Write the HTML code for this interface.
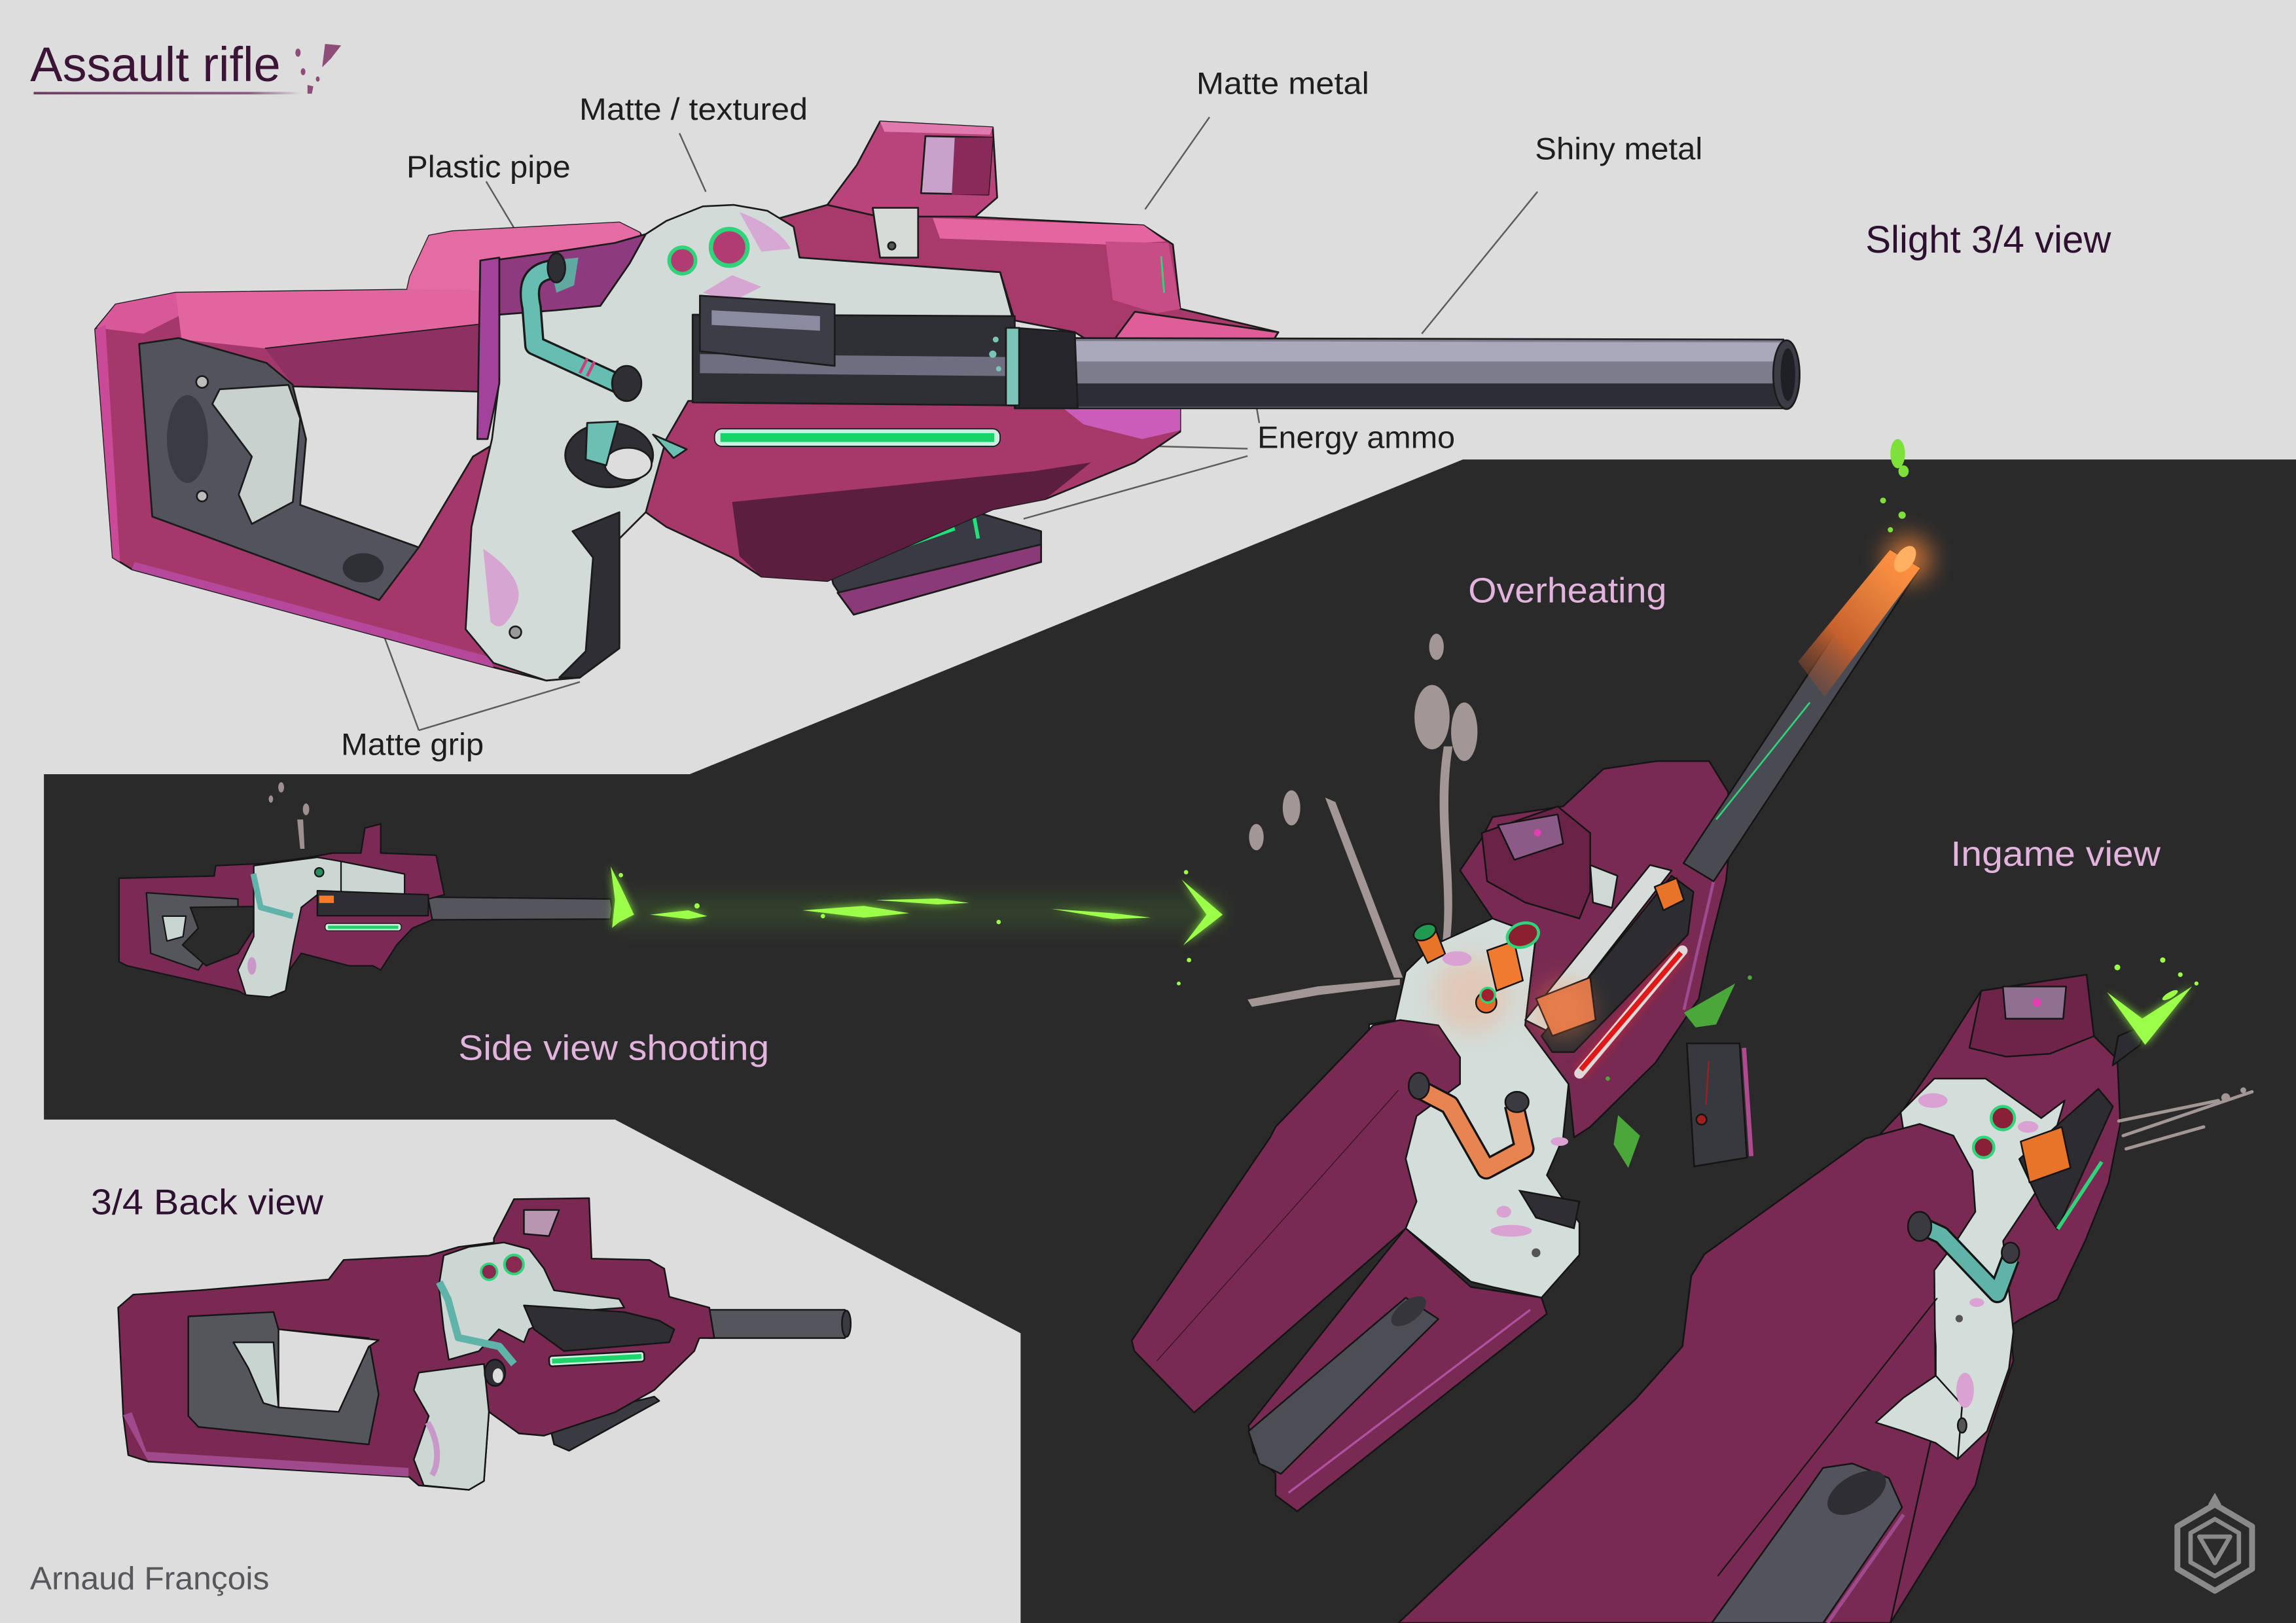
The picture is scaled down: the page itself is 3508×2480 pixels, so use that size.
<!DOCTYPE html>
<html><head><meta charset="utf-8">
<style>
html,body{margin:0;padding:0;background:#dddddd;overflow:hidden}
svg{display:block}
</style></head><body>
<svg xmlns="http://www.w3.org/2000/svg" width="3508" height="2480" viewBox="0 0 1568 1109" preserveAspectRatio="none" font-family="'Liberation Sans', Arial, sans-serif">
<defs>
 <filter id="b3" x="-100%" y="-100%" width="300%" height="300%"><feGaussianBlur stdDeviation="3"/></filter>
 <filter id="b8" x="-100%" y="-100%" width="300%" height="300%"><feGaussianBlur stdDeviation="8"/></filter>
 <linearGradient id="ul" x1="0" x2="1" y1="0" y2="0"><stop offset="0" stop-color="#6e3a63"/><stop offset="0.8" stop-color="#8a5a80"/><stop offset="1" stop-color="#8a5a80" stop-opacity="0"/></linearGradient>
 <linearGradient id="hot" x1="1225" y1="470" x2="1305" y2="380" gradientUnits="userSpaceOnUse"><stop offset="0" stop-color="#8a4a32" stop-opacity="0.2"/><stop offset="0.4" stop-color="#c8622e"/><stop offset="1" stop-color="#ff9a48"/></linearGradient>
</defs>

<rect width="1568" height="1109" fill="#dddddd"/>
<polygon points="999,314 1568,314 1568,1109 697,1109 697,911 420,765 30,765 30,529 471,529" fill="#2a2a2a"/>

<!-- ===== Title ===== -->
<text x="20.6" y="55.4" font-size="33" fill="#3a1535" textLength="171" lengthAdjust="spacingAndGlyphs">Assault rifle</text>
<rect x="23" y="62.8" width="183" height="1.7" fill="url(#ul)"/>
<g fill="#8e4c78">
<ellipse cx="203.5" cy="36" rx="1.8" ry="2.8"/>
<ellipse cx="207" cy="49" rx="1.6" ry="2.4"/>
<path d="M222,30 L233,31 L226,40 L220,46 Z"/>
<ellipse cx="217" cy="54" rx="1.3" ry="1.8"/>
<path d="M210,58 L214,59 L213,64 L210,64 Z"/>
</g>

<!-- ===== Labels ===== -->
<g font-size="21" fill="#1e1e1e">
<text x="395.6" y="81.8" textLength="156" lengthAdjust="spacingAndGlyphs">Matte / textured</text>
<text x="277.6" y="121.2" textLength="112" lengthAdjust="spacingAndGlyphs">Plastic pipe</text>
<text x="817" y="64.1" textLength="118" lengthAdjust="spacingAndGlyphs">Matte metal</text>
<text x="1048.3" y="108.8" textLength="114.4" lengthAdjust="spacingAndGlyphs">Shiny metal</text>
<text x="858.7" y="306.2" textLength="135" lengthAdjust="spacingAndGlyphs">Energy ammo</text>
<text x="232.9" y="515.9" textLength="97.5" lengthAdjust="spacingAndGlyphs">Matte grip</text>
</g>
<text x="1274" y="172.6" font-size="26" fill="#2e1030" textLength="167.7" lengthAdjust="spacingAndGlyphs">Slight 3/4 view</text>
<text x="62.1" y="829.7" font-size="24.5" fill="#2e1030" textLength="158.7" lengthAdjust="spacingAndGlyphs">3/4 Back view</text>
<g font-size="24" fill="#e2b3dd">
<text x="1002.7" y="411.7" textLength="135.5" lengthAdjust="spacingAndGlyphs">Overheating</text>
<text x="313" y="724.2" textLength="212.3" lengthAdjust="spacingAndGlyphs">Side view shooting</text>
<text x="1332.2" y="591.6" textLength="143.3" lengthAdjust="spacingAndGlyphs">Ingame view</text>
</g>
<text x="20.5" y="1086" font-size="22" fill="#58585c" textLength="163.4" lengthAdjust="spacingAndGlyphs">Arnaud François</text>

<!-- leader lines -->
<g stroke="#5c5c5c" stroke-width="1.1" fill="none">
<line x1="332" y1="124" x2="362" y2="174"/>
<line x1="464" y1="91" x2="482" y2="131"/>
<line x1="826" y1="80" x2="782" y2="143"/>
<line x1="1050" y1="131" x2="971" y2="228"/>
<line x1="855" y1="260" x2="860" y2="289"/>
<line x1="852" y1="306.6" x2="678" y2="302"/>
<line x1="852" y1="311.6" x2="699" y2="354.5"/>
<line x1="286" y1="499" x2="255" y2="415"/>
<line x1="286" y1="499" x2="396" y2="466"/>
</g>

<!-- ===== MAIN GUN ===== -->
<g stroke="#1b1b1b" stroke-width="1.2" stroke-linejoin="round">
<polygon points="565,381 660,348 711,363 711,384 583,420 569,399" fill="#3a3a44"/>
<polygon points="572,405 711,372 711,384 583,420" fill="#8a3a76"/>
<line x1="586" y1="384" x2="652" y2="361" stroke="#25e07a" stroke-width="3"/>
<line x1="665" y1="352" x2="668" y2="368" stroke="#25e07a" stroke-width="2.5"/>

<polygon points="65,225 79,208 120,200 278,198 280,189 293,161 309,158 423,152 437,159 445,172 445,300 430,340 420,352 395,463 373,465 337,456 90,389 77,381" fill="#a5386a"/>
<polygon points="66,224 79,208 120,200 126,214 98,228" fill="#d9589a" stroke="none"/>
<polygon points="120,200 278,198 441,200 441,219 341,220 181,238 124,232" fill="#e1659e" stroke="none"/>
<polygon points="280,189 293,161 309,158 423,152 437,159 441,200 278,198" fill="#e56ca2" stroke="none"/>
<polygon points="181,238 341,220 441,219 441,272 341,271 200,263" fill="#8e3062" stroke="none"/>
<line x1="181" y1="238" x2="341" y2="220" stroke-width="0.8"/>
<polygon points="65,225 72,222 82,384 77,381" fill="#c94a96" stroke="none"/>
<polygon points="92,384 335,449 337,456 90,389" fill="#b5489a" stroke="none"/>

<polygon points="95,235 122,231 182,248 200,263 209,300 205,345 286,374 259,410 104,353" fill="#52535c"/>
<ellipse cx="128" cy="300" rx="14" ry="30" fill="#3b3b43" stroke="none"/>
<ellipse cx="248" cy="388" rx="14" ry="10" fill="#2f2f36" stroke="none"/>
<polygon points="200,264 341,268 343,300 323,312 286,374 205,345 209,300" fill="#dddddd"/>
<polygon points="150,266 197,263 205,286 200,343 172,358 163,338 172,312 145,276" fill="#c8d1ce"/>
<circle cx="138" cy="261" r="4" fill="#bdbdbd"/>
<circle cx="138" cy="339" r="3.6" fill="#bdbdbd"/>

<polygon points="441,272 693,276 740,272 806,275 806,295 775,316 714,341 678,348 565,397 520,394 500,381 455,360 441,350" fill="#a6386a"/>
<polygon points="500,343 706,322 745,316 714,341 678,348 565,397 520,394 505,380" fill="#5c1e3e" stroke="none"/>
<polygon points="720,274 806,276 806,294 780,300 740,290" fill="#c95db8" stroke="none"/>

<polygon points="529,150 565,140 600,145 781,154 801,167 806,211 873,227 863,243 755,240 734,227 693,219 683,186 546,176" fill="#a8396b"/>
<polygon points="637,149 781,154 796,165 755,167 642,163" fill="#e4659f" stroke="none"/>
<polygon points="755,165 798,166 806,211 790,214 760,205" fill="#c74d86" stroke="none"/>
<polygon points="775,213 873,227 863,243 755,240" fill="#df5e98"/>
<line x1="793" y1="175" x2="795" y2="200" stroke="#2fd47a" stroke-width="1.3"/>
<polygon points="565,140 585,113 601,83 678,87 681,135 666,148 600,148" fill="#b8447b"/>
<polygon points="601,83 678,87 676,92 604,90" fill="#e07aae" stroke="none"/>
<polygon points="632,93 678,94 675,133 629,132" fill="#c9a2cb"/>
<polygon points="652,94 678,94 675,133 650,133" fill="#8a2a5a" stroke="none"/>
<polygon points="596,142 627,142 627,176 601,176" fill="#d5dcd8"/>
<circle cx="609" cy="168" r="2.5" fill="#555"/>

<polygon points="336,178 380,172 420,166 441,160 430,180 410,209 380,212 341,215" fill="#8e3a7e"/>
<polygon points="375,178 395,176 392,195 380,200" fill="#5fa9a0" stroke="none"/>
<polygon points="341,215 380,212 410,209 430,180 441,160 455,151 480,141 501,140 524,144 542,155 546,176 683,186 692,219 693,277 560,272 470,274 455,300 441,350 423,368 423,440 396,463 373,465 337,453 318,430 322,360 336,300 341,260" fill="#d3dbd8"/>
<polygon points="328,178 341,176 341,262 333,300 326,300" fill="#a2429a"/>
<path d="M505,145 C520,150 535,160 540,170 L520,172 Z" fill="#d8a8d4" stroke="none"/>
<polygon points="480,200 500,188 520,196 500,206" fill="#d6a6d2" stroke="none"/>
<polygon points="391,363 423,350 423,443 396,463 382,463 400,445 405,381" fill="#2e2e34"/>
<path d="M330,375 C345,385 360,400 352,415 C345,430 340,430 335,425 Z" fill="#d7a5d2" stroke="none"/>
<circle cx="352" cy="432" r="4" fill="#999"/>

<polygon points="473,215 693,216 693,277 473,275" fill="#2f2f36"/>
<polygon points="478,242 693,244 693,257 478,255" fill="#6e6e80" stroke="none"/>
<polygon points="478,202 570,208 570,250 478,240" fill="#3d3d48"/>
<polygon points="486,212 560,216 560,226 486,222" fill="#8a8aa0" stroke="none"/>
<polygon points="730,231 1218,232 1218,279 730,279" fill="#7c7c8c"/>
<polygon points="731,233 1217,234 1217,247 731,247" fill="#a9a9bb" stroke="none"/>
<polygon points="731,262 1217,262 1217,278 731,278" fill="#2d2d35" stroke="none"/>
<ellipse cx="1220" cy="256" rx="9" ry="23.5" fill="#3c3c46"/>
<ellipse cx="1221" cy="256" rx="5" ry="18" fill="#1f1f26" stroke="none"/>
<polygon points="693,224 734,227 736,279 693,279" fill="#26262c"/>
<rect x="687" y="224" width="9" height="53" fill="#7cc3b8"/>
<circle cx="680" cy="232" r="2" fill="#7cc3b8" stroke="none"/>
<circle cx="678" cy="242" r="2.5" fill="#7cc3b8" stroke="none"/>
<circle cx="682" cy="252" r="1.8" fill="#7cc3b8" stroke="none"/>

<rect x="488" y="293" width="195" height="12" rx="5" fill="#cdeee0" stroke-width="0.8"/>
<rect x="492" y="296" width="187" height="6" fill="#16d468" stroke="none"/>
<circle cx="466" cy="178" r="9" fill="#b03c72" stroke="#2fd47a" stroke-width="2.5"/>
<circle cx="498" cy="169" r="12.5" fill="#b03c72" stroke="#2fd47a" stroke-width="3"/>
<ellipse cx="416" cy="311" rx="30" ry="22" fill="#2e2e34"/>
<ellipse cx="429" cy="317" rx="16" ry="11" fill="#dddddd"/>
<polygon points="401,289 422,288 414,318 400,314" fill="#6cbfb3"/>
<polygon points="446,297 469,307 460,313" fill="#6cbfb3"/>
<path d="M378,184 C362,186 360,196 363,210 L365,236 L424,263" fill="none" stroke="#1b1b1b" stroke-width="14" stroke-linecap="round"/>
<path d="M378,184 C362,186 360,196 363,210 L365,236 L424,263" fill="none" stroke="#66bdb1" stroke-width="11" stroke-linecap="round"/>
<line x1="396" y1="255" x2="401" y2="245" stroke="#c8407a" stroke-width="2"/>
<line x1="401" y1="257" x2="406" y2="247" stroke="#c8407a" stroke-width="2"/>
<ellipse cx="380" cy="183" rx="6" ry="10" fill="#2e2e34"/>
<ellipse cx="428" cy="262" rx="10" ry="12" fill="#2e2e34"/>
</g>

<!-- ===== SIDE VIEW GUN ===== -->
<g fill="#9e8f90">
<ellipse cx="192" cy="538" rx="2" ry="3.5"/>
<ellipse cx="185" cy="546" rx="1.5" ry="2.5"/>
<ellipse cx="209" cy="553" rx="2.2" ry="4"/>
<path d="M203,560 L207,560 L208,580 L205,580 Z"/>
</g>
<g stroke="#151515" stroke-width="1" stroke-linejoin="round">
<polygon points="292.5,613 417,614.3 418,621 417,628 292.5,628.5" fill="#55555e"/>
<polygon points="81.3,600.1 146.3,598.6 147.3,591.5 178.8,590.1 211.3,585.8 227.5,582.9 246.5,582.9 249.2,565.8 260,563 260,582.9 297.9,584.4 303.4,611.4 292.5,614.3 295.2,628.5 281.7,634.2 270.9,645.7 260,662.8 254.6,659.9 238.3,659.9 205.8,651.4 197.7,662.8 195,677 184.2,681.3 167.9,679.9 162.5,677 86.7,659.9 81.3,657.1" fill="#7a2a54"/>
<polygon points="100,610 162.5,614.3 162.5,623 135.4,662.8 102.9,651.4" fill="#55555c"/>
<polygon points="130,620 173,619.4 179,626 162.5,651.4 140.8,659.9 124.6,645.7 135.4,634.3" fill="#2a2a2a"/>
<polygon points="111,626 127,626 125,640 114,643" fill="#c9d5d1"/>
<polygon points="173.3,591.5 216.7,585.8 232.9,588.6 238.3,605.7 232.9,611.4 216.7,611.4 205.8,620 200.4,645.7 195,677 184.2,681.3 167.9,679.9 162.5,662.8 173.3,640 173.3,620" fill="#ccd7d3"/>
<polygon points="232.9,588.6 276.3,597.2 276.3,611.4 232.9,611.4" fill="#cbd6d2"/>
<polygon points="216.7,608.6 292.5,611.4 292.5,625.7 216.7,625.7" fill="#2e2e33"/>
<rect x="218" y="612" width="10" height="5" fill="#ff7a2a" stroke="none"/>
<rect x="222" y="631" width="52" height="5" rx="2" fill="#cdeee0" stroke-width="0.6"/>
<rect x="224" y="632.5" width="48" height="2.2" fill="#1ed46a" stroke="none"/>
<path d="M173,597 L178,620 L200,626" fill="none" stroke="#5fb3a8" stroke-width="4"/>
<circle cx="218" cy="596" r="3" fill="#2a8a60"/>
<ellipse cx="172" cy="660" rx="3" ry="6" fill="#c898c8" stroke="none"/>
</g>

<rect x="420" y="613" width="415" height="20" fill="#7dff3a" opacity="0.12" filter="url(#b8)"/>
<g fill="#8cf53a" filter="url(#b3)" opacity="0.85">
<polygon points="417,592 424,606 433,625 423,630 418,634 420,615"/>
<polygon points="444,625 470,622 483,626 470,628"/>
<polygon points="548,622 590,619 621,624 590,627"/>
<polygon points="598,615 640,614 662,617 640,618"/>
<polygon points="718,621 760,624 786,627 760,628"/>
<polygon points="807,601 835,625 808,646 824,625"/>
</g>
<g fill="#9cff4a">
<polygon points="417,592 424,606 433,625 423,630 418,634 420,615"/>
<polygon points="444,625 470,622 483,626 470,628"/>
<polygon points="548,622 590,619 621,624 590,627"/>
<polygon points="598,615 640,614 662,617 640,618"/>
<polygon points="718,621 760,624 786,627 760,628"/>
<polygon points="807,601 835,625 808,646 824,625"/>
<circle cx="476" cy="619" r="1.8"/>
<circle cx="562" cy="626" r="1.5"/>
<circle cx="682" cy="630" r="1.5"/>
<circle cx="812" cy="656" r="1.5"/>
<circle cx="805" cy="672" r="1.3"/>
<circle cx="424" cy="598" r="1.5"/>
<circle cx="810" cy="596" r="1.5"/>
</g>

<!-- ===== BACK VIEW GUN ===== -->
<g stroke="#151515" stroke-width="1.1" stroke-linejoin="round">
<polygon points="484,895 577,895 581,905 577,914.3 484,914.3" fill="#55555e"/>
<ellipse cx="578" cy="904.5" rx="3" ry="9" fill="#3a3a42"/>
<polygon points="374.9,972 446.8,954.3 450.2,957.2 388.6,991.3 378.4,986.9" fill="#3a3a42"/>
<polygon points="91,884.6 135.5,881.7 224.4,874.3 234.7,860.9 292.8,858 313.4,852 337.3,849 337.3,846.1 351,819.4 402.3,818.7 404,860 443.4,860.9 453.6,866.8 457.1,886.1 484.4,893.5 487.8,914.3 477.6,914.3 474.1,923.2 446.8,949.8 420,965 371.5,981 354.4,979.5 333.9,964.7 330.5,1012 320.2,1018 286,1015 279.2,1009.1 101.3,998.7 87.6,994.3 84.2,967.6 80.7,893.5" fill="#7a2a52"/>
<polygon points="84,967 101,998 279,1009 279,1003 100,992 90,965" fill="#a04a8e" stroke="none"/>
<polygon points="128.6,899.5 186.8,896.5 190.2,908.3 251.8,914.3 258.6,952.8 251.8,987 135.5,975 128.6,967.6" fill="#55555c"/>
<polygon points="190.2,908.3 258.6,915.7 251.8,920.2 231.3,964.7 190.2,961.7" fill="#dddddd"/>
<polygon points="159.4,917.2 186.8,917.2 190.2,961.7 179.9,958.7 169.7,935" fill="#c8d4d0"/>
<polygon points="303,857.9 320.2,852 344.1,849 361.3,853.5 371.5,866.8 378.4,881.7 422.9,887.6 426.3,893.5 385.2,896.5 361.3,908.3 357.8,917.2 340.7,908.3 327.1,923.2 306.5,929.1 303,908.3 299.7,878.7" fill="#ccd7d3"/>
<polygon points="286,937.9 330.5,932 333.9,964.7 330.5,1012 320.2,1018 289.4,1015 282.6,997.3 292.8,967.6 282.6,949.8" fill="#ccd7d3"/>
<path d="M292,972 C300,985 300,1000 295,1008" fill="none" stroke="#c898c8" stroke-width="4"/>
<polygon points="357.8,892 426.3,896.5 450.2,902.4 460.5,908.3 457.1,917.2 385.2,923.2 364.7,908.3" fill="#2e2e33"/>
<rect x="375" y="925" width="65" height="7" rx="2" fill="#cdeee0" transform="rotate(-3 407 928)"/>
<rect x="377" y="926.8" width="61" height="3.4" fill="#1ed46a" stroke="none" transform="rotate(-3 407 928)"/>
<path d="M300,876 L306,888 L313,914 L341,920 L351,932" fill="none" stroke="#5fb3a8" stroke-width="5"/>
<polygon points="357.8,826.8 381.8,826.8 374.9,844.6 357.8,843.1" fill="#b896b2"/>
<circle cx="351" cy="864" r="6.5" fill="#8a2a50" stroke="#2fd47a" stroke-width="1.8"/>
<circle cx="334" cy="869" r="5.5" fill="#8a2a50" stroke="#2fd47a" stroke-width="1.6"/>
<ellipse cx="338" cy="938" rx="7" ry="9" fill="#2e2e34"/>
<ellipse cx="340" cy="940" rx="3.5" ry="5" fill="#dddddd" stroke="none"/>
</g>

<!-- ===== OVERHEATING GUN ===== -->
<g fill="#a39795">
<ellipse cx="981" cy="442" rx="5" ry="9"/>
<ellipse cx="978" cy="490" rx="12" ry="22"/>
<ellipse cx="1000" cy="500" rx="9" ry="20"/>
<path d="M992,510 C984,560 996,600 990,645 L985,645 C990,600 978,560 986,510 Z"/>
<ellipse cx="858" cy="572" rx="5" ry="9"/>
<ellipse cx="882" cy="552" rx="6" ry="12"/>
<polygon points="905,545 912,548 958,668 952,668"/>
<polygon points="852,683 900,674 956,669 956,673 900,680 855,688"/>
</g>
<g stroke="#141414" stroke-width="1.1" stroke-linejoin="round">
<polygon points="852.6,974.3 945.2,857.5 960,839.3 1004.5,879.4 1052.7,886.7 1056.4,897.7 885.9,1032.7 871.1,1021.7 871.1,1007.1 856.3,992.5" fill="#782a52"/>
<polygon points="852.6,978 960,886.7 982.3,901.3 874.8,1007.1 860,1000" fill="#4d4d56"/>
<ellipse cx="962" cy="896" rx="14" ry="7" fill="#35353b" stroke="none" transform="rotate(-38 962 896)"/>
<line x1="880" y1="1020" x2="1045" y2="895" stroke="#b050a0" stroke-width="1.5"/>
<polygon points="960,664.1 978.6,645.9 1019.3,627.6 1049,638.6 1041.6,700.6 1071.2,740.7 1067.5,777.2 1056.4,803 1078.6,835.6 1078.6,857.5 1052.7,886.7 1019.3,879.4 1004.5,875.8 960,839.3 935,820 935,700 952.6,697" fill="#d3ddd9"/>
<polygon points="772.9,916 867.4,777.2 871.1,770 937.8,700.6 956.3,697 982.3,700.6 997.1,722.5 997.1,740.7 967.4,762.6 960,791.8 967.4,821 960,839.3 815.5,965.2 774.7,923.2" fill="#782a52"/>
<line x1="790" y1="930" x2="955" y2="745" stroke-width="0.6" stroke="#3a1428"/>
<polygon points="1011.9,572.9 1019.3,558.3 1067.5,551 1095,525.4 1131.2,520.1 1167.2,520.1 1180.1,541 1182.4,565.6 1178.7,602.1 1167.6,645.9 1160.1,682.4 1130.5,726.2 1086,770 1075,777.2 1071.2,740.7 1041.6,700.6 1049,638.6 1019.3,627.6 997.1,594.8" fill="#782a52"/>
<line x1="1180" y1="560" x2="1150" y2="690" stroke="#a04a90" stroke-width="2"/>
<polygon points="1149.7,589.8 1290.7,375.8 1311.3,388.2 1170.3,602.2" fill="#4a4a53"/>
<polygon points="1228,452 1290.7,375.8 1311.3,388.2 1246,476" fill="url(#hot)" stroke="none"/>
<line x1="1172" y1="560" x2="1236" y2="480" stroke="#2fd47a" stroke-width="1.2"/>
<polygon points="1011.9,569.2 1063.8,551 1086,569.2 1086,609.4 1078.6,627.6 1041.6,616.7 1015.6,602.1" fill="#6a2247"/>
<polygon points="1023,563.8 1063.8,556.5 1067.5,576.5 1034.2,587.5" fill="#8c5a86"/>
<circle cx="1050" cy="569" r="2.5" fill="#e040b0" stroke="none"/>
<polygon points="1086,591.1 1104.6,598.4 1100.9,620.3 1087.9,616.7" fill="#cfd8d5"/>
<polygon points="1041.6,697 1126.8,591.1 1141.6,594.8 1056.4,704.3" fill="#d5dcd9"/>
<polygon points="1052.7,707.9 1141.6,598.4 1156.5,609.4 1152.7,638.6 1074.9,718.9 1060.1,718.9" fill="#2c2c31"/>
<polygon points="1049,682.4 1086,667.8 1089.7,697 1060.1,707.9" fill="#d9764a"/>
<polygon points="1130,606 1145,600 1150,615 1136,622" fill="#e8742a"/>
</g>
<circle cx="1303" cy="382" r="16" fill="#ff8a3a" opacity="0.7" filter="url(#b8)"/>
<ellipse cx="1301" cy="382" rx="10" ry="6" fill="#ffb060" transform="rotate(-56 1301 382)"/>
<circle cx="1068" cy="690" r="20" fill="#ff8a50" opacity="0.35" filter="url(#b8)"/>
<circle cx="1005" cy="680" r="26" fill="#ff9a6a" opacity="0.3" filter="url(#b8)"/>
<line x1="1078.6" y1="733.5" x2="1149" y2="649.5" stroke="#ff2020" stroke-width="8" opacity="0.5" filter="url(#b3)"/>
<line x1="1078.6" y1="733.5" x2="1149" y2="649.5" stroke="#e0d8d8" stroke-width="7" stroke-linecap="round"/>
<line x1="1079.6" y1="731" x2="1148" y2="651" stroke="#e01818" stroke-width="3.5"/>
<g stroke="#141414" stroke-width="1.1">
<polygon points="966,640 980,634 987,652 975,658" fill="#e8742a"/>
<ellipse cx="973" cy="637" rx="8" ry="5" fill="#1f9a50" transform="rotate(-25 973 637)"/>
<polygon points="1015.6,649.5 1034,643 1040,670 1022,677" fill="#f07a30"/>
<ellipse cx="1040" cy="639" rx="11" ry="8" fill="#8a2030" stroke="#2fd47a" stroke-width="2" transform="rotate(-20 1040 639)"/>
<circle cx="1015" cy="685" r="7" fill="#e86a2a"/>
<circle cx="1016" cy="680" r="5" fill="#a02030" stroke="#2fd47a" stroke-width="1.5"/>
<path d="M971,745 L990,755 L1015,799 L1041,785 L1034,755" fill="none" stroke="#141414" stroke-width="14" stroke-linejoin="round"/>
<path d="M971,745 L990,755 L1015,799 L1041,785 L1034,755" fill="none" stroke="#e88450" stroke-width="11" stroke-linejoin="round"/>
<ellipse cx="969" cy="742" rx="7" ry="9" fill="#3a3a40"/>
<ellipse cx="1036" cy="753" rx="8" ry="7" fill="#3a3a40"/>
<polygon points="1037.9,813.7 1078.6,821 1074.9,839.3 1049,832" fill="#2e2e33"/>
</g>
<g fill="#d9a2d2">
<ellipse cx="995" cy="655" rx="10" ry="5"/>
<ellipse cx="1032" cy="841" rx="14" ry="4"/>
<ellipse cx="1027" cy="828" rx="5" ry="4"/>
<ellipse cx="1065" cy="780" rx="6" ry="3"/>
</g>
<circle cx="1049" cy="856" r="3" fill="#555"/>
<g stroke="#141414" stroke-width="1.1">
<polygon points="1152,713 1188,713 1193,791 1157,797" fill="#38383f"/>
<line x1="1191" y1="716" x2="1196" y2="790" stroke="#b04a90" stroke-width="3"/>
<circle cx="1162" cy="765" r="3.5" fill="#a02020"/>
<line x1="1167" y1="725" x2="1165" y2="755" stroke="#a02020" stroke-width="1"/>
</g>
<g fill="#4aa83a">
<polygon points="1150,692 1185,672 1172,700 1158,702"/>
<polygon points="1105,762 1120,776 1112,798 1102,782"/>
<circle cx="1195" cy="668" r="1.5"/>
<circle cx="1098" cy="737" r="1.5"/>
</g>
<g fill="#7ee03a">
<ellipse cx="1296" cy="310" rx="5" ry="10"/>
<ellipse cx="1300" cy="322" rx="3.5" ry="4"/>
<circle cx="1286" cy="342" r="2"/>
<circle cx="1299" cy="352" r="2.5"/>
<circle cx="1291" cy="362" r="1.8"/>
</g>

<!-- ===== INGAME GUN ===== -->
<g stroke="#141414" stroke-width="1.1" stroke-linejoin="round">
<!-- body silhouette -->
<polygon points="1282,777 1300,758 1327,718 1353,677 1425,666 1430,708 1446,724 1448,768 1440,808 1424,848 1405,888 1379,902 1373,906 1375,930 1357,983 1349,1015 1291,1109 955,1109 1117,956 1149,920 1155,872 1164,857" fill="#782a52"/>
<!-- white plate + grip -->
<polygon points="1298,760 1321,737 1356,737 1394,764 1410,752 1392,812 1368,848 1373,891 1375,910 1372,935 1357,978 1337,997 1322,985 1322,920 1320,880 1306,812" fill="#d3ddd9"/>
<!-- sight -->
<polygon points="1345,716 1353,677 1425,666 1430,708 1400,720 1370,722" fill="#6e2449"/>
<polygon points="1367.8,674.1 1411,674.1 1409,696.1 1369.7,696.1" fill="#8e7090"/>
<circle cx="1391" cy="685" r="3" fill="#e040b0" stroke="none"/>
<!-- dark channel -->
<polygon points="1379,792 1433,744 1443,756 1405,840 1394,824" fill="#2c2c31"/>
<polygon points="1380,780 1408,770 1414,798 1386,808" fill="#e8742a"/>
<circle cx="1367.8" cy="764" r="8" fill="#8a2038" stroke="#2fd47a" stroke-width="2"/>
<circle cx="1354.7" cy="784" r="7" fill="#8a2038" stroke="#2fd47a" stroke-width="2"/>
<!-- stock overlay -->
<polygon points="955,1109 1117,956 1149,920 1155,872 1164,857 1274,778 1311,768 1334,776 1347,800 1349,828 1336,848 1321,868 1322,969 1291,1109" fill="#782a52"/>
<line x1="1323" y1="887" x2="1173" y2="1077" stroke-width="0.9"/>
<!-- white lobe -->
<polygon points="1322,940 1300,955 1281,972 1300,978 1322,986 1337,997 1340,960" fill="#d3ddd9"/>
<!-- window -->
<polygon points="1231,1023 1245,1003 1265,1000 1290,1010 1299,1030 1245,1109 1169,1109" fill="#52535c"/>
<ellipse cx="1268" cy="1020" rx="22" ry="12" fill="#2e2e33" stroke="none" transform="rotate(-30 1268 1020)"/>
<line x1="1300" y1="1035" x2="1248" y2="1109" stroke="#a04a8e" stroke-width="2.5"/>
<polygon points="1442.8,728 1446.6,708 1465.4,700 1461.6,714" fill="#2c2c31"/>
<path d="M1313,838 L1326,844 L1364,884 L1373,860" fill="none" stroke="#141414" stroke-width="13" stroke-linejoin="round"/>
<path d="M1313,838 L1326,844 L1364,884 L1373,860" fill="none" stroke="#5fb3a8" stroke-width="10" stroke-linejoin="round"/>
<ellipse cx="1311" cy="838" rx="8" ry="10" fill="#3a3a40"/>
<ellipse cx="1373" cy="856" rx="6" ry="7" fill="#3a3a40"/>
<ellipse cx="1340" cy="974" rx="3" ry="5" fill="#555"/>
</g>
<line x1="1405.3" y1="839.8" x2="1435.3" y2="793.9" stroke="#2fd47a" stroke-width="2.5"/>
<g fill="#d9a2d2">
<ellipse cx="1320" cy="752" rx="10" ry="5"/>
<ellipse cx="1385" cy="770" rx="7" ry="4"/>
<ellipse cx="1342" cy="950" rx="6" ry="12"/>
<ellipse cx="1350" cy="890" rx="5" ry="3"/>
</g>
<circle cx="1338" cy="901" r="2.5" fill="#555"/>
<g fill="#8cf53a" filter="url(#b3)" opacity="0.8">
<polygon points="1439,678 1463,696 1497,674 1465,714"/>
</g>
<g fill="#9cff4a">
<polygon points="1439,678 1463,696 1497,674 1465,714"/>
<circle cx="1446" cy="661" r="2"/>
<circle cx="1477" cy="656" r="1.8"/>
<circle cx="1489" cy="666" r="1.6"/>
<circle cx="1500" cy="672" r="1.4"/>
<ellipse cx="1482" cy="680" rx="6" ry="2" transform="rotate(-30 1482 680)"/>
</g>
<g stroke="#a39795" stroke-width="2.2" stroke-linecap="round">
<line x1="1447" y1="766" x2="1515" y2="752"/>
<line x1="1450" y1="776" x2="1538" y2="746"/>
<line x1="1452" y1="785" x2="1505" y2="770"/>
</g>
<g fill="#a39795">
<circle cx="1520" cy="750" r="3"/>
<circle cx="1532" cy="745" r="2"/>
</g>

<!-- ===== LOGO ===== -->
<g fill="none" stroke="#8a8a8a" stroke-linejoin="round">
<polygon points="1512.6,1028 1538,1043 1538,1072 1512.6,1087 1487,1072 1487,1043" stroke-width="4"/>
<polygon points="1512.6,1038 1529,1047.5 1529,1067.5 1512.6,1077 1496,1067.5 1496,1047.5" stroke-width="3"/>
<polygon points="1502,1050 1523,1050 1512.6,1068" stroke-width="3"/>
</g>
<polygon points="1508,1028 1512.6,1020 1517,1028" fill="#8a8a8a"/>
</svg>
</body></html>
